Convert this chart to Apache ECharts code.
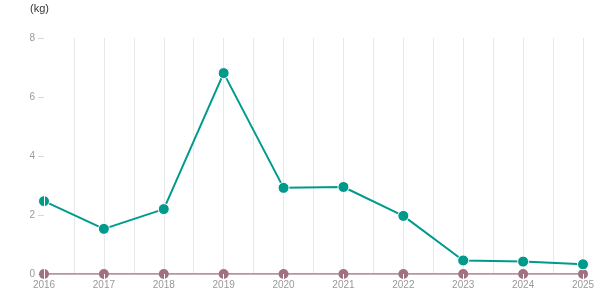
<!DOCTYPE html>
<html><head><meta charset="utf-8">
<script src="https://cdn.jsdelivr.net/npm/echarts@6/dist/echarts.min.js"></script>
<style>html,body{margin:0;padding:0;background:#fff}#c{width:615px;height:305px}</style>
</head><body><div id="c"></div>
<script>
var years = [2016, 2017, 2018, 2019, 2020, 2021, 2022, 2023, 2024, 2025];
var seriesA = [2.47, 1.53, 2.2, 6.81, 2.92, 2.95, 1.97, 0.46, 0.42, 0.33];
var seriesB = [0, 0, 0, 0, 0, 0, 0, 0, 0, 0];
var yTicks = [0, 2, 4, 6, 8];
var unitLabel = '(kg)';

var chart = echarts.init(document.getElementById('c'), null, {renderer: 'canvas'});
var minY = years[0], maxY = years[years.length - 1];
function pairs(v) { return years.map(function (y, i) { return [y, v[i]]; }); }
chart.setOption({
  animation: false,
  title: {text: unitLabel, left: 25, top: -2, textStyle: {fontSize: 11, fontWeight: 'normal', color: '#333', fontFamily: 'Arial, Liberation Sans'}},
  grid: {left: 44, right: 32, top: 38, bottom: 31},
  xAxis: [{
    type: 'value', min: minY, max: maxY, interval: 0.5,
    axisLine: {show: false}, axisTick: {show: false},
    splitLine: {show: true, lineStyle: {color: '#e8e8e8', width: 1}},
    axisLabel: {color: '#999', fontSize: 10, margin: 6, fontFamily: 'Arial, Liberation Sans',
      formatter: function (v) { return Number.isInteger(v) ? String(v) : ''; }}
  }, {
    type: 'value', min: minY, max: maxY, interval: 1, position: 'bottom', z: 10,
    axisLine: {show: false}, splitLine: {show: false}, axisLabel: {show: false},
    axisTick: {show: true, length: 5, lineStyle: {color: '#fff', width: 1}}
  }],
  yAxis: [{
    type: 'value', min: yTicks[0], max: yTicks[yTicks.length - 1], interval: 2,
    axisLine: {show: false},
    axisTick: {show: true, length: 6, lineStyle: {color: '#d8d8d8'}},
    splitLine: {show: false},
    axisLabel: {color: '#999', fontSize: 10, margin: 9, fontFamily: 'Arial, Liberation Sans'}
  }, {
    type: 'value', min: yTicks[0], max: yTicks[yTicks.length - 1], interval: 2, position: 'left', z: 10,
    axisLine: {show: true, lineStyle: {color: '#fff', width: 1}},
    axisTick: {show: false}, splitLine: {show: false}, axisLabel: {show: false}
  }],
  series: [{
    type: 'line', data: pairs(seriesB), symbol: 'circle', symbolSize: 10,
    itemStyle: {color: '#a0727f'}, lineStyle: {color: '#a0727f', width: 1.5}, z: 2
  }, {
    type: 'line', data: pairs(seriesA), symbol: 'circle', symbolSize: 11,
    itemStyle: {color: '#009a8d', borderColor: '#fff', borderWidth: 1},
    lineStyle: {color: '#009a8d', width: 2}, z: 3
  }]
});
</script></body></html>
